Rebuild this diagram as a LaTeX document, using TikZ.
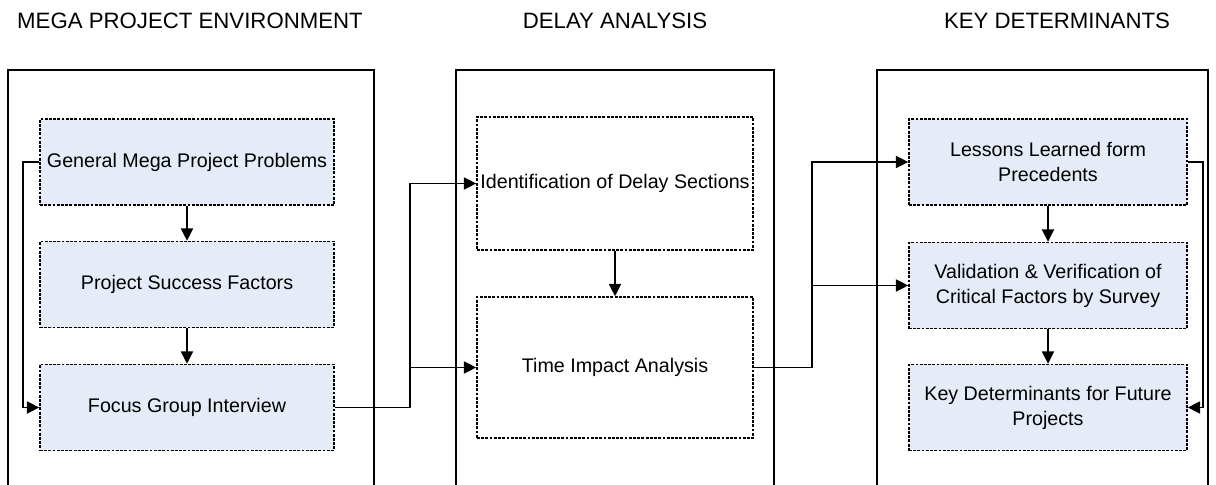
\documentclass[tikz,border=0pt]{standalone}
\usepackage{fontspec}
\setmainfont{Liberation Sans}
\usepackage{tikz}
\usetikzlibrary{arrows.meta}
\usetikzlibrary{positioning}
\definecolor{boxblue}{RGB}{230,236,247}
\tikzset{
  stagebox/.style={draw=black, line width=1.3pt},
  stepbox/.style={draw=black, fill=boxblue, line width=1pt, dash pattern=on 2pt off 1pt,
    inner sep=0pt, align=center, font=\fontsize{14}{17.7}\selectfont},
  headline/.style={font=\fontsize{15.8}{18}\selectfont, inner sep=0pt},
  arr/.style={line width=1.3pt, -{Triangle[length=3.1mm,width=3mm]}},
  link/.style={line width=1.3pt}
}

\begin{document}
\begin{tikzpicture}[x=0.025cm, y=-0.025cm]
  \useasboundingbox (0,0) rectangle (1216,485);
  % headings
  \node[headline] (hmega)  at (190,21)  {MEGA PROJECT ENVIRONMENT};
  \node[headline] (hdelay) at (615,21)  {DELAY ANALYSIS};
  \node[headline] (hkey)   at (1057,21) {KEY DETERMINANTS};
  % open frames, cut by the page bottom
  \draw[stagebox] (8,495) -- (8,70) -- (374,70) -- (374,495);
  \draw[stagebox] (456,495) -- (456,70) -- (774,70) -- (774,495);
  \draw[stagebox] (877,495) -- (877,70) -- (1208,70) -- (1208,495);
  % left column
  \node[stepbox, minimum width=7.35cm, minimum height=2.15cm] (gmpp) at (187,162) {General Mega Project Problems};
  \node[stepbox, minimum width=7.35cm, minimum height=2.15cm] (psf)  at (187,284.5) {Project Success Factors};
  \node[stepbox, minimum width=7.35cm, minimum height=2.15cm] (fgi)  at (187,407.5) {Focus Group Interview};
  % middle column
  \node[stepbox, fill=white, minimum width=6.9cm, minimum height=3.325cm] (ident) at (615,183.5) {Identification of Delay Sections};
  \node[stepbox, fill=white, minimum width=6.9cm, minimum height=3.525cm] (tia)   at (615,367.5) {Time Impact Analysis};
  % right column
  \node[stepbox, minimum width=6.95cm, minimum height=2.15cm] (lessons) at (1048,162) {Lessons Learned form\\Precedents};
  \node[stepbox, minimum width=6.95cm, minimum height=2.15cm] (valid)   at (1048,285.5) {Validation \& Verification of\\Critical Factors by Survey};
  \node[stepbox, minimum width=6.95cm, minimum height=2.15cm] (kd)      at (1048,407.5) {Key Determinants for Future\\Projects};
  % split points
  \path (tia.west) -- ++(-66,0) coordinate (splitL);
  \path (valid.west) -- ++(-96,0) coordinate (splitR);
  % arrows
  \draw[arr] (gmpp) -- (psf);
  \draw[arr] (psf) -- (fgi);
  \draw[arr] (gmpp.west) -- ++(-16,0) |- (fgi.west);
  \draw[arr] (fgi.east) -| (splitL) |- (ident.west);
  \draw[arr] (splitL) -- (tia.west);
  \draw[arr] (ident) -- (tia);
  \draw[arr] (tia.east) -| (splitR) |- (lessons.west);
  \draw[arr] (splitR) -- (valid.west);
  \draw[arr] (lessons) -- (valid);
  \draw[arr] (valid) -- (kd);
  \draw[arr] (lessons.east) -- ++(15,0) |- (kd.east);
\end{tikzpicture}
\end{document}
